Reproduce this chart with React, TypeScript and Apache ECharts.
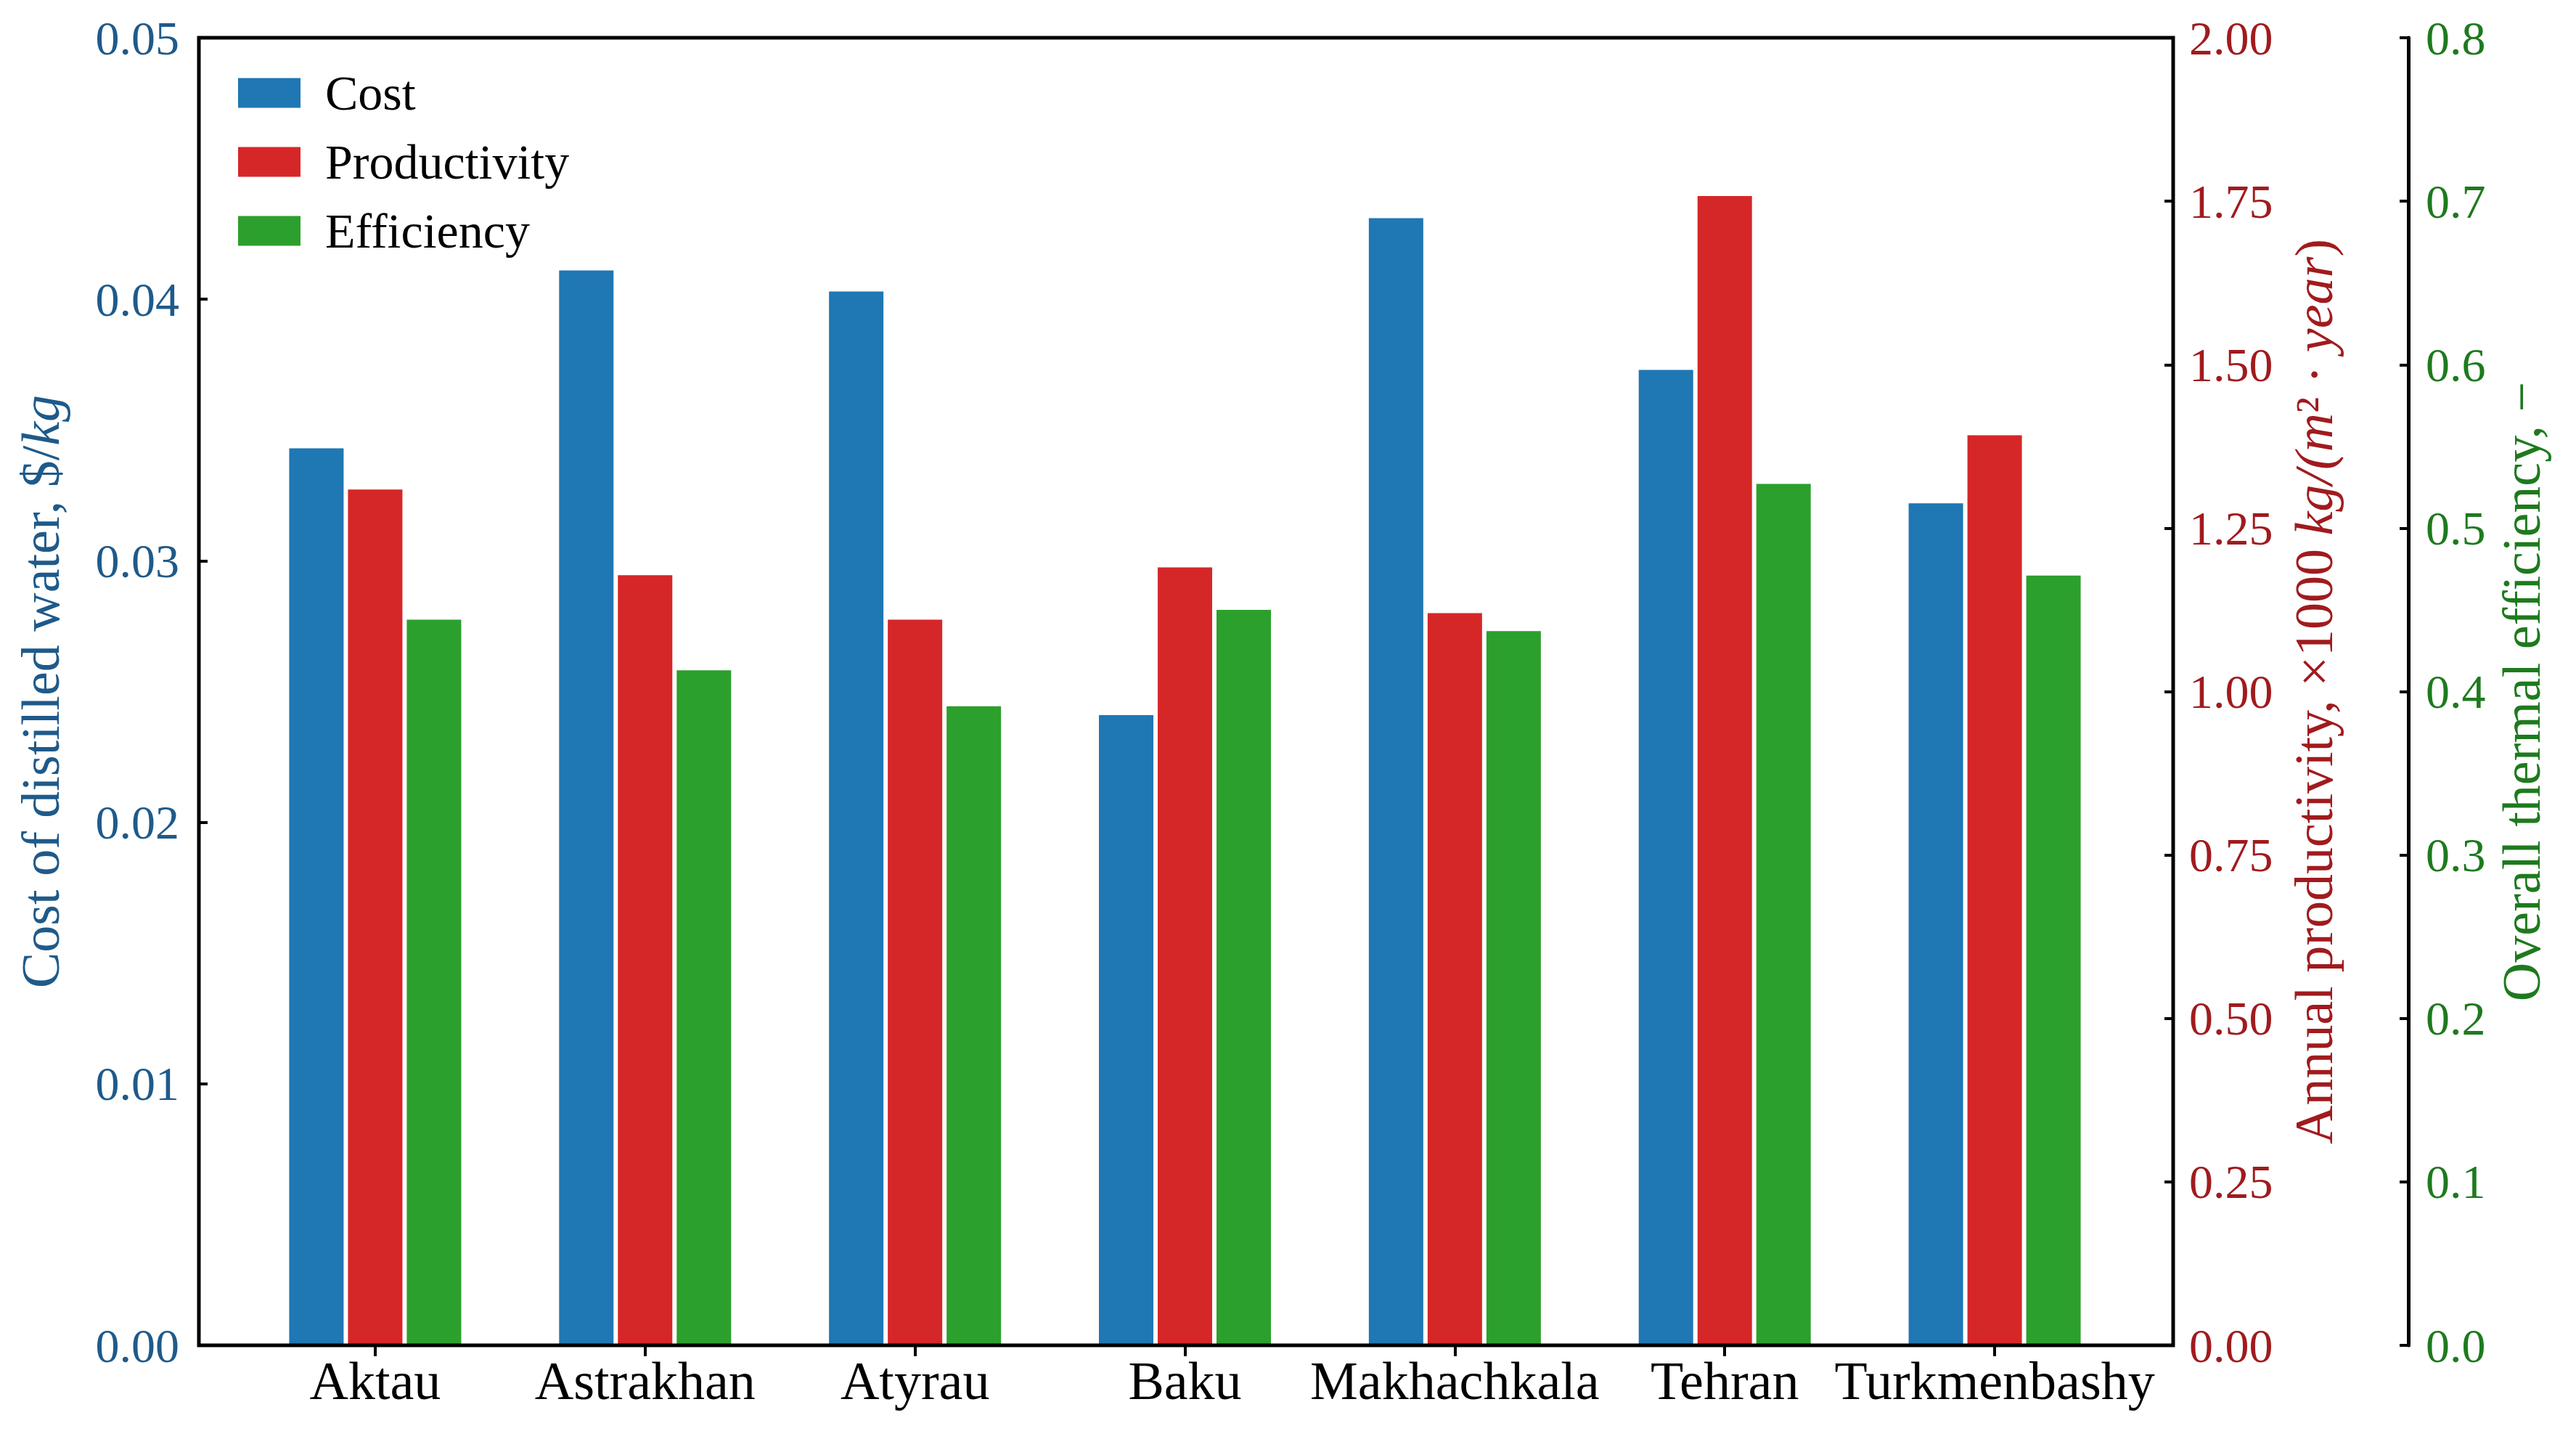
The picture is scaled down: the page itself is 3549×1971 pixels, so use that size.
import React, { useEffect, useRef } from "react";
import * as echarts from "echarts";

// ---- data ----
const cities = ["Aktau", "Astrakhan", "Atyrau", "Baku", "Makhachkala", "Tehran", "Turkmenbashy"];
const costValues = [0.0343, 0.0411, 0.0403, 0.0241, 0.0431, 0.0373, 0.0322];
const productivityValues = [1.309, 1.178, 1.11, 1.19, 1.12, 1.758, 1.392];
const efficiencyValues = [0.444, 0.413, 0.391, 0.45, 0.437, 0.527, 0.471];

const costTicks = [0, 0.01, 0.02, 0.03, 0.04, 0.05];
const productivityTicks = [0, 0.25, 0.5, 0.75, 1.0, 1.25, 1.5, 1.75, 2.0];
const efficiencyTicks = [0, 0.1, 0.2, 0.3, 0.4, 0.5, 0.6, 0.7, 0.8];

const seriesNames = ["Cost", "Productivity", "Efficiency"];

// ---- style / layout ----
const FONT = "Liberation Serif";
const BAR_COLORS = ["#1f77b4", "#d62728", "#2ca02c"];
const COST_COLOR = "#1f5a8a";
const PROD_COLOR = "#a01b1e";
const EFF_COLOR = "#1e7a1e";

const W = 3549;
const H = 1971;
const FRAME_L = 274;
const FRAME_R = 2994;
const FRAME_T = 52;
const FRAME_B = 1853;
const GRID_L = 331;
const GRID_R = 2934;
const GREEN_AXIS_X = 3318;

function App() {
  const ref = useRef<HTMLDivElement>(null);

  useEffect(() => {
    if (!ref.current) return;
    const chart = echarts.init(ref.current, undefined, { renderer: "svg" });

    const tickLine = { color: "#000", width: 4 };
    const yBase = (ticks: number[], digits: number, color: string, margin: number) => ({
      type: "value",
      min: ticks[0],
      max: ticks[ticks.length - 1],
      interval: ticks[1] - ticks[0],
      splitLine: { show: false },
      axisTick: { show: true, inside: true, length: 12, lineStyle: tickLine },
      axisLabel: {
        color,
        fontFamily: FONT,
        fontSize: 66,
        margin,
        formatter: (v: number) => v.toFixed(digits),
      },
      nameLocation: "middle",
      nameTextStyle: {
        color,
        fontFamily: FONT,
        fontSize: 74,
        rich: {
          i: { fontStyle: "italic", color, fontFamily: FONT, fontSize: 74 },
        },
      },
    });

    const option: any = {
      animation: false,
      backgroundColor: "#ffffff",
      grid: {
        left: GRID_L,
        right: W - GRID_R,
        top: FRAME_T,
        bottom: H - FRAME_B,
        containLabel: false,
        outerBoundsMode: "none",
      },
      legend: {
        orient: "vertical",
        left: 328,
        top: 94,
        padding: 0,
        itemWidth: 86,
        itemHeight: 41,
        itemGap: 27,
        icon: "rect",
        selectedMode: false,
        data: seriesNames,
        textStyle: {
          fontFamily: FONT,
          fontSize: 68,
          color: "#000",
          padding: [0, 0, 0, 29],
        },
      },
      xAxis: [
        {
          type: "category",
          data: cities,
          position: "bottom",
          axisLine: { show: false },
          axisTick: { show: false },
          splitLine: { show: false },
          axisLabel: {
            interval: 0,
            color: "#000",
            fontFamily: FONT,
            fontSize: 74,
            margin: 12,
          },
        },
        {
          type: "category",
          data: cities,
          position: "top",
          axisLine: { show: false },
          axisTick: {
            show: true,
            inside: true,
            length: 15,
            alignWithLabel: true,
            interval: 0,
            lineStyle: tickLine,
          },
          axisLabel: { show: false },
          splitLine: { show: false },
        },
      ],
      yAxis: [
        {
          ...yBase(costTicks, 2, COST_COLOR, 27),
          position: "left",
          offset: GRID_L - FRAME_L,
          axisLine: { show: false },
          name: "Cost of distilled water, $/{i|kg}",
          nameGap: 181,
        },
        {
          ...yBase(productivityTicks, 2, PROD_COLOR, 22),
          position: "right",
          offset: FRAME_R - GRID_R,
          axisLine: { show: false },
          name: "Annual productivity, ×1000 {i|kg/(m}² · {i|year})",
          nameGap: 157,
        },
        {
          ...yBase(efficiencyTicks, 1, EFF_COLOR, 24),
          position: "right",
          offset: GREEN_AXIS_X - GRID_R,
          axisLine: { show: true, lineStyle: { color: "#000", width: 5 } },
          name: "Overall thermal efficiency, −",
          nameGap: 119,
        },
      ],
      graphic: [
        {
          type: "rect",
          z: 100,
          shape: {
            x: FRAME_L,
            y: FRAME_T,
            width: FRAME_R - FRAME_L,
            height: FRAME_B - FRAME_T,
          },
          style: { fill: "none", stroke: "#000", lineWidth: 5 },
        },
      ],
      series: [
        {
          name: seriesNames[0],
          type: "bar",
          xAxisIndex: 0,
          yAxisIndex: 0,
          data: costValues,
          barWidth: 75,
          barGap: "8%",
          itemStyle: { color: BAR_COLORS[0] },
        },
        {
          name: seriesNames[1],
          type: "bar",
          xAxisIndex: 0,
          yAxisIndex: 1,
          data: productivityValues,
          barWidth: 75,
          barGap: "8%",
          itemStyle: { color: BAR_COLORS[1] },
        },
        {
          name: seriesNames[2],
          type: "bar",
          xAxisIndex: 0,
          yAxisIndex: 2,
          data: efficiencyValues,
          barWidth: 75,
          barGap: "8%",
          itemStyle: { color: BAR_COLORS[2] },
        },
      ],
    };

    chart.setOption(option);
    return () => {
      chart.dispose();
    };
  }, []);

  return (
    <div
      ref={ref}
      style={{
        position: "fixed",
        left: 0,
        top: 0,
        width: W + "px",
        height: H + "px",
        background: "#fff",
      }}
    />
  );
}

export default App;
